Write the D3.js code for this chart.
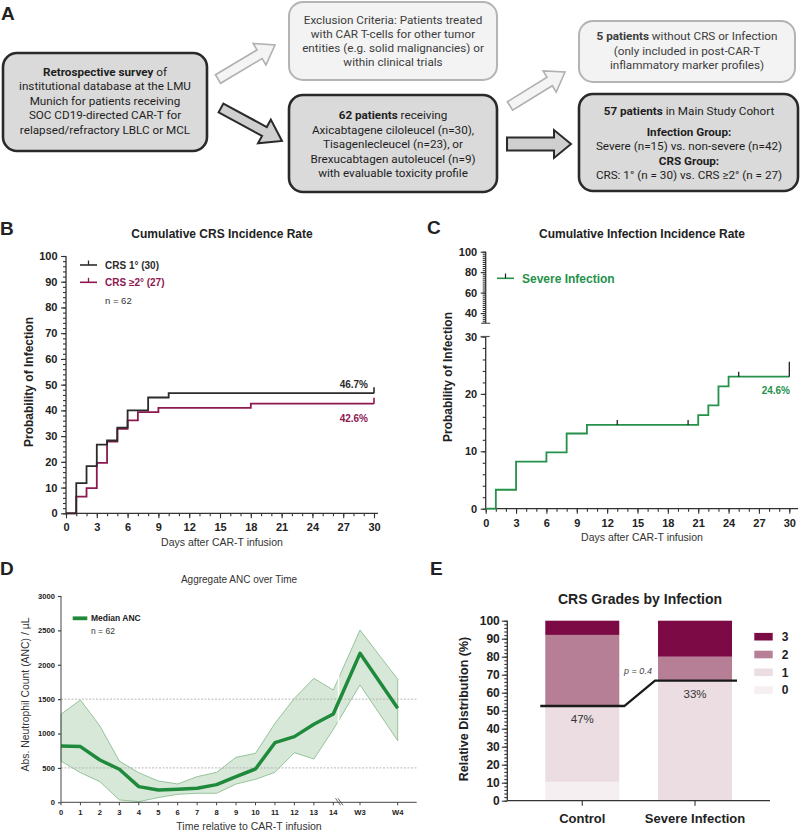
<!DOCTYPE html>
<html><head><meta charset="utf-8">
<script src="https://cdn.jsdelivr.net/npm/d3@7"></script>
<style>
body{margin:0;background:#fff;}
svg{display:block;}
</style></head>
<body>
<svg id="c" width="800" height="831"></svg>
<script>
// ================= DATA =================
// Panel A (flow chart text; **bold**)
const surveyLines = ["**Retrospective survey** of","institutional database at the LMU","Munich for patients receiving","SOC CD19-directed CAR-T for","relapsed/refractory LBLC or MCL"];
const exclusionLines = ["Exclusion Criteria: Patients treated","with CAR T-cells for other tumor","entities (e.g. solid malignancies) or","within clinical trials"];
const cohortLines = ["**62 patients** receiving","Axicabtagene ciloleucel (n=30),","Tisagenlecleucel (n=23), or","Brexucabtagen autoleucel (n=9)","with evaluable toxicity profile"];
const excludedLines = ["**5 patients** without CRS or Infection","(only included in post-CAR-T","inflammatory marker profiles)"];
const mainLines = ["**57 patients** in Main Study Cohort","**Infection Group:**","Severe (n=15) vs. non-severe (n=42)","**CRS Group:**","CRS: 1° (n = 30) vs. CRS ≥2° (n = 27)"];

// Panel B
const crsSeries = ["CRS 1° (30)", "CRS ≥2° (27)"];
const crs1Days = [0, 1, 2, 3, 4, 5, 6, 8, 10, 30];
const crs1Pct  = [0, 11.7, 18.3, 26.7, 28.3, 33.3, 40.0, 45.0, 46.7, 46.7];
const crs2Days = [0, 1, 2, 3, 4, 5, 6, 7, 9, 18, 30];
const crs2Pct  = [0, 6.5, 9.8, 19.6, 27.9, 32.8, 36.1, 39.3, 41.0, 42.6, 42.6];
const crsFinalLabels = ["46.7%", "42.6%"];
const dayTicks = [0, 3, 6, 9, 12, 15, 18, 21, 24, 27, 30];
const pctTicksB = [0, 10, 20, 30, 40, 50, 60, 70, 80, 90, 100];

// Panel C
const infSeries = "Severe Infection";
const infDays = [0, 1, 3, 6, 8, 10, 21, 22, 23, 24, 30];
const infPct  = [0, 3.3, 8.2, 9.8, 13.1, 14.6, 16.3, 18.0, 21.3, 23.0, 23.0];
const infCensorDays = [13, 20, 25];
const infFinalLabel = "24.6%";
const cTicksLow = [0, 10, 20, 30];
const cTicksHigh = [40, 60, 80, 100];

// Panel D
const ancTickLabels = ["0","1","2","3","4","5","6","7","8","9","10","11","12","13","14","W3","W4"];
const ancDays   = [0,1,2,3,4,5,6,7,8,9,10,11,12,13,14,21,28];
const ancMedian = [820,810,615,480,228,180,189,204,257,373,485,867,955,1134,1284,2166,1367];
const ancUpper  = [1280,1488,1110,600,430,310,267,373,436,654,712,1148,1512,1803,1633,2505,1790];
const ancLower  = [600,431,300,34,10,68,116,131,131,266,334,436,722,630,1060,1706,896];
const ancRefLines = [500, 1500];
const ancYTicks = [0, 500, 1000, 1500, 2000, 2500, 3000];

// Panel E
const eGroups = ["Control", "Severe Infection"];
const eGrades = ["0", "1", "2", "3"];
const eControl = [10.5, 42.1, 39.5, 7.9];
const eSevere  = [0, 66.7, 13.3, 20.0];
const eHighLabels = ["47%", "33%"];
const ePValue = "p = 0.4";
const pctTicksE = [0,10,20,30,40,50,60,70,80,90,100];

// ================= DRAW =================
const F = '"Liberation Sans", Arial, Helvetica, sans-serif';
const FA = 'Roboto, "Liberation Sans", Arial, sans-serif';
const svg = d3.select("#c");
svg.append("rect").attr("width",800).attr("height",831).attr("fill","#fff");

function addText(g, x, y, s, o = {}) {
  const t = g.append("text").attr("x", x).attr("y", y).text(s)
    .attr("font-family", o.ff || F).attr("font-size", o.fs || 11)
    .attr("font-weight", o.fw || "normal").attr("fill", o.fill || "#222")
    .attr("text-anchor", o.anchor || "start");
  if (o.italic) t.attr("font-style", "italic");
  if (o.rotate) t.attr("transform", `rotate(-90,${x},${y})`);
  return t;
}
function styleAxis(g, fs, fw, col) {
  g.select(".domain").remove();
  g.selectAll(".tick line").attr("stroke", col || "#333").attr("stroke-width", 1.1);
  g.selectAll(".tick text").attr("font-family", F).attr("font-size", fs).attr("font-weight", fw).attr("fill", "#222");
}

// ---------- Panel A ----------
const gA = svg.append("g");
addText(gA, 1, 19.5, "A", {fs: 19, fw: "bold"});

function blockArrow(g, x0, y0, x1, y1, sw, hw, hl, fill, stroke, lw) {
  const L = Math.hypot(x1 - x0, y1 - y0), a = Math.atan2(y1 - y0, x1 - x0) * 180 / Math.PI;
  const pts = [[0,-sw/2],[L-hl,-sw/2],[L-hl,-hw/2],[L,0],[L-hl,hw/2],[L-hl,sw/2],[0,sw/2]];
  g.append("polygon").attr("points", pts.map(p => p.join(",")).join(" "))
    .attr("transform", `translate(${x0},${y0}) rotate(${a})`)
    .attr("fill", fill).attr("stroke", stroke).attr("stroke-width", lw).attr("stroke-linejoin", "miter");
}
function flowBox(g, x, y, w, h, dark, lines, cx, y0, gaps) {
  g.append("rect").attr("x", x).attr("y", y).attr("width", w).attr("height", h).attr("rx", 14)
    .attr("fill", dark ? "#dadada" : "#f3f3f3").attr("stroke", dark ? "#2a2a2a" : "#b4b4b4")
    .attr("stroke-width", dark ? 2.6 : 2);
  let yy = y0;
  lines.forEach((ln, i) => {
    if (i > 0) yy += gaps[i - 1];
    const t = g.append("text").attr("x", cx).attr("y", yy).attr("text-anchor", "middle")
      .attr("font-family", FA).attr("font-size", 11.7).attr("fill", dark ? "#1e1e1e" : "#3c3c3c");
    ln.split("**").forEach((part, k) => {
      if (part.length) t.append("tspan").attr("font-weight", k % 2 ? "bold" : "normal").text(part);
    });
  });
}
blockArrow(gA, 218, 79, 275, 45, 10, 25, 18, "#f4f4f4", "#b0b0b0", 1.6);
blockArrow(gA, 221, 108, 282, 141, 10, 27, 20, "#cfcfcf", "#2a2a2a", 2);
blockArrow(gA, 510, 106, 565, 72, 10, 25, 18, "#f4f4f4", "#b0b0b0", 1.6);
blockArrow(gA, 507, 144, 571, 144, 13, 28, 17, "#cfcfcf", "#2a2a2a", 2);
flowBox(gA, 3, 53, 204, 98, true, surveyLines, 105, 76, [14.4,14.4,14.4,14.4]);
flowBox(gA, 289, 2, 208, 78, false, exclusionLines, 393, 23.6, [14.1,14.1,14.1]);
flowBox(gA, 289, 95, 208, 97, true, cohortLines, 393, 119.3, [14.4,14.4,14.4,14.4]);
flowBox(gA, 579, 21, 216, 61, false, excludedLines, 687, 40.3, [14.2,14.2]);
flowBox(gA, 579, 94, 219, 97, true, mainLines, 689, 114.5, [21.5,14,14.5,14]);

// ---------- Panel B ----------
const gB = svg.append("g");
addText(gB, 0, 235, "B", {fs: 19, fw: "bold"});
addText(gB, 222, 237.5, "Cumulative CRS Incidence Rate", {fs: 12, fw: "bold", anchor: "middle"});
const xB = d3.scaleLinear().domain([0, 30]).range([66, 374]);
const yB = d3.scaleLinear().domain([0, 100]).range([513.3, 256]);
let ax = gB.append("g").attr("transform", `translate(66,0)`).call(d3.axisLeft(yB).tickValues(d3.range(0, 101, 2)).tickSize(3).tickFormat("").tickSizeOuter(0));
styleAxis(ax, 11, "bold");
ax = gB.append("g").attr("transform", `translate(66,0)`).call(d3.axisLeft(yB).tickValues(pctTicksB).tickSize(5).tickPadding(3.5).tickSizeOuter(0));
styleAxis(ax, 11, "bold");
ax = gB.append("g").attr("transform", `translate(0,${yB(0)})`).call(d3.axisBottom(xB).tickValues(d3.range(0, 31, 1)).tickSize(3).tickFormat("").tickSizeOuter(0));
styleAxis(ax, 11, "bold");
ax = gB.append("g").attr("transform", `translate(0,${yB(0)})`).call(d3.axisBottom(xB).tickValues(dayTicks).tickSize(5).tickPadding(5).tickSizeOuter(0));
styleAxis(ax, 11, "bold");
gB.append("line").attr("x1", xB(0)).attr("x2", xB(0)).attr("y1", yB(0)).attr("y2", yB(100)).attr("stroke", "#333").attr("stroke-width", 1.3);
gB.append("line").attr("x1", xB(0)).attr("x2", xB(30) + 4).attr("y1", yB(0)).attr("y2", yB(0)).attr("stroke", "#333").attr("stroke-width", 1.3);
addText(gB, 33, 382, "Probability of Infection", {fs: 12, fw: "bold", anchor: "middle", rotate: true});
addText(gB, 222, 546, "Days after CAR-T infusion", {fs: 10.5, anchor: "middle", fill: "#333"});
const stepLine = (xs, ys) => d3.line().x(d => xs(d[0])).y(d => ys(d[1])).curve(d3.curveStepAfter);
const colB = ["#2b2b2b", "#8d1850"];
const seriesB = [d3.zip(crs1Days, crs1Pct), d3.zip(crs2Days, crs2Pct)];
[1, 0].forEach(i => {
  gB.append("path").attr("d", stepLine(xB, yB)(seriesB[i])).attr("fill", "none").attr("stroke", colB[i]).attr("stroke-width", 1.8);
  const last = seriesB[i][seriesB[i].length - 1];
  gB.append("line").attr("x1", xB(last[0])).attr("x2", xB(last[0])).attr("y1", yB(last[1])).attr("y2", yB(last[1]) - 6).attr("stroke", colB[i]).attr("stroke-width", 1.6);
});
addText(gB, 368, 388, crsFinalLabels[0], {fs: 10, fw: "bold", anchor: "end", fill: colB[0]});
addText(gB, 368, 422, crsFinalLabels[1], {fs: 10, fw: "bold", anchor: "end", fill: colB[1]});
crsSeries.forEach((s, i) => {
  const yy = 265 + i * 17.3;
  gB.append("line").attr("x1", 80).attr("x2", 97).attr("y1", yy).attr("y2", yy).attr("stroke", colB[i]).attr("stroke-width", 1.6);
  gB.append("line").attr("x1", 88.5).attr("x2", 88.5).attr("y1", yy).attr("y2", yy - 4.5).attr("stroke", colB[i]).attr("stroke-width", 1.3);
  addText(gB, 105, yy + 3.6, s, {fs: 10, fw: "bold", fill: colB[i]});
});
addText(gB, 105, 303.5, "n = 62", {fs: 9.5, fill: "#333"});

// ---------- Panel C ----------
const gC = svg.append("g");
addText(gC, 427, 233.5, "C", {fs: 19, fw: "bold"});
addText(gC, 642, 237.5, "Cumulative Infection Incidence Rate", {fs: 12, fw: "bold", anchor: "middle"});
const xC = d3.scaleLinear().domain([0, 30]).range([485.7, 789.3]);
const yCLow = d3.scaleLinear().domain([0, 30]).range([508.7, 336.5]);
const yCHigh = d3.scaleLinear().domain([30, 100]).range([323.3, 251.7]);
const axC0 = xC(0);
[[yCLow, cTicksLow, d3.range(0, 31, 2)], [yCHigh, cTicksHigh, d3.range(32, 101, 2)]].forEach(([sc, maj, mn]) => {
  let a = gC.append("g").attr("transform", `translate(${axC0},0)`).call(d3.axisLeft(sc).tickValues(mn).tickSize(3).tickFormat("").tickSizeOuter(0));
  styleAxis(a, 11, "bold");
  a = gC.append("g").attr("transform", `translate(${axC0},0)`).call(d3.axisLeft(sc).tickValues(maj).tickSize(5).tickPadding(3.5).tickSizeOuter(0));
  styleAxis(a, 11, "bold");
  const r = sc.range();
  gC.append("line").attr("x1", axC0).attr("x2", axC0).attr("y1", r[0]).attr("y2", r[1]).attr("stroke", "#333").attr("stroke-width", 1.3);
});
gC.append("line").attr("x1", axC0 - 4.5).attr("x2", axC0 + 4.5).attr("y1", yCHigh(30)).attr("y2", yCHigh(30)).attr("stroke", "#555").attr("stroke-width", 1.2);
gC.append("line").attr("x1", axC0 - 5).attr("x2", axC0 + 4).attr("y1", yCLow(30)).attr("y2", yCLow(30)).attr("stroke", "#555").attr("stroke-width", 1.2);
ax = gC.append("g").attr("transform", `translate(0,${yCLow(0)})`).call(d3.axisBottom(xC).tickValues(d3.range(0, 31, 1)).tickSize(3).tickFormat("").tickSizeOuter(0));
styleAxis(ax, 11, "bold");
ax = gC.append("g").attr("transform", `translate(0,${yCLow(0)})`).call(d3.axisBottom(xC).tickValues(dayTicks).tickSize(5).tickPadding(5.5).tickSizeOuter(0));
styleAxis(ax, 11, "bold");
gC.append("line").attr("x1", axC0).attr("x2", 798).attr("y1", yCLow(0)).attr("y2", yCLow(0)).attr("stroke", "#333").attr("stroke-width", 1.3);
addText(gC, 452, 377, "Probability of Infection", {fs: 12, fw: "bold", anchor: "middle", rotate: true});
addText(gC, 642, 541, "Days after CAR-T infusion", {fs: 10.5, anchor: "middle", fill: "#333"});
const green = "#25914a";
const infSer = d3.zip(infDays, infPct);
gC.append("path").attr("d", stepLine(xC, yCLow)(infSer)).attr("fill", "none").attr("stroke", green).attr("stroke-width", 1.8);
infCensorDays.forEach(d => {
  const v = infPct[d3.bisectRight(infDays, d) - 1];
  gC.append("line").attr("x1", xC(d)).attr("x2", xC(d)).attr("y1", yCLow(v)).attr("y2", yCLow(v) - 5).attr("stroke", "#222").attr("stroke-width", 1.3);
});
const infLast = infSer[infSer.length - 1];
gC.append("line").attr("x1", xC(infLast[0])).attr("x2", xC(infLast[0])).attr("y1", yCLow(infLast[1])).attr("y2", yCLow(infLast[1]) - 15).attr("stroke", "#222").attr("stroke-width", 1.3);
addText(gC, 790, 394, infFinalLabel, {fs: 10, fw: "bold", anchor: "end", fill: green});
gC.append("line").attr("x1", 497).attr("x2", 514).attr("y1", 278.3).attr("y2", 278.3).attr("stroke", green).attr("stroke-width", 1.6);
gC.append("line").attr("x1", 505.5).attr("x2", 505.5).attr("y1", 278.3).attr("y2", 273.5).attr("stroke", "#222").attr("stroke-width", 1.2);
addText(gC, 522, 283, infSeries, {fs: 12, fw: "bold", fill: green});

// ---------- Panel D ----------
const gD = svg.append("g");
addText(gD, 0, 575, "D", {fs: 19, fw: "bold"});
addText(gD, 239, 582.5, "Aggregate ANC over Time", {fs: 10, anchor: "middle", fill: "#333"});
const xD1 = d3.scaleLinear().domain([0, 14]).range([61, 333.3]);
const xD2 = d3.scaleLinear().domain([21, 28]).range([360, 397.7]);
const xD = d => d <= 14 ? xD1(d) : xD2(d);
const yD = d3.scaleLinear().domain([0, 3000]).range([802.3, 596]);
const ancRows = ancDays.map((d, i) => ({d, m: ancMedian[i], u: ancUpper[i], l: ancLower[i]}));
gD.append("path").datum(ancRows)
  .attr("d", d3.area().x(r => xD(r.d)).y0(r => yD(r.l)).y1(r => yD(r.u)))
  .attr("fill", "#d8e8d8").attr("stroke", "#7fb886").attr("stroke-width", 0.8);
gD.append("line").attr("x1", 338.5).attr("x2", 338.5).attr("y1", yD(2600)).attr("y2", yD(900)).attr("stroke", "#fff").attr("stroke-width", 1.5);
ancRefLines.forEach(v => {
  gD.append("line").attr("x1", xD1(0)).attr("x2", 416.7).attr("y1", yD(v)).attr("y2", yD(v))
    .attr("stroke", "#b0b0b0").attr("stroke-width", 0.9).attr("stroke-dasharray", "2,1.5");
});
gD.append("path").datum(ancRows).attr("d", d3.line().x(r => xD(r.d)).y(r => yD(r.m)))
  .attr("fill", "none").attr("stroke", "#1f8a3b").attr("stroke-width", 3.5).attr("stroke-linejoin", "round");
ax = gD.append("g").attr("transform", `translate(${xD1(0)},0)`).call(d3.axisLeft(yD).tickValues(ancYTicks).tickFormat(d3.format("d")).tickSize(3).tickPadding(3).tickSizeOuter(0));
styleAxis(ax, 7.6, "bold");
gD.append("line").attr("x1", xD1(0)).attr("x2", xD1(0)).attr("y1", yD(0)).attr("y2", yD(3000)).attr("stroke", "#444").attr("stroke-width", 1);
const gX = gD.append("g").attr("transform", `translate(0,${yD(0)})`);
ancDays.forEach((d, i) => {
  gX.append("line").attr("x1", xD(d)).attr("x2", xD(d)).attr("y1", 0).attr("y2", 3).attr("stroke", "#444").attr("stroke-width", 1);
  addText(gX, xD(d), 12.7, ancTickLabels[i], {fs: 7.6, fw: "bold", anchor: "middle"});
});
gD.append("line").attr("x1", xD1(0)).attr("x2", 416.7).attr("y1", yD(0)).attr("y2", yD(0)).attr("stroke", "#444").attr("stroke-width", 1);
[0, 2.5].forEach(o => gD.append("line").attr("x1", 335.5 + o).attr("x2", 340.5 + o).attr("y1", yD(0) - 4).attr("y2", yD(0) + 3).attr("stroke", "#555").attr("stroke-width", 0.9));
addText(gD, 29, 694.5, "Abs. Neutrophil Count (ANC) / µL", {fs: 10.4, anchor: "middle", fill: "#333", rotate: true});
addText(gD, 249, 829.5, "Time relative to CAR-T infusion", {fs: 10.5, anchor: "middle", fill: "#333"});
gD.append("line").attr("x1", 72.7).attr("x2", 87.3).attr("y1", 618.3).attr("y2", 618.3).attr("stroke", "#1f8a3b").attr("stroke-width", 3.8);
addText(gD, 91, 621.3, "Median ANC", {fs: 8.5, fw: "bold"});
addText(gD, 91, 634, "n = 62", {fs: 8.5, fill: "#333"});

// ---------- Panel E ----------
const gE = svg.append("g");
addText(gE, 430, 575, "E", {fs: 19, fw: "bold"});
addText(gE, 640, 604, "CRS Grades by Infection", {fs: 14, fw: "bold", anchor: "middle"});
const xE = d3.scalePoint().domain(eGroups).range([507.3, 770]).padding(0.665);
const yE = d3.scaleLinear().domain([0, 100]).range([800.7, 620.7]);
const barW = 74;
const eColors = {"0": "#f6eff2", "1": "#ecdde3", "2": "#b77f95", "3": "#7b0a45"};
const eRows = eGroups.map((g, i) => {
  const vals = i === 0 ? eControl : eSevere;
  const o = {group: g};
  eGrades.forEach((k, j) => o[k] = vals[j]);
  return o;
});
const stacked = d3.stack().keys(eGrades)(eRows);
stacked.forEach(layer => {
  gE.selectAll(null).data(layer).enter().append("rect")
    .attr("x", d => xE(d.data.group) - barW / 2).attr("width", barW)
    .attr("y", d => yE(d[1])).attr("height", d => yE(d[0]) - yE(d[1]))
    .attr("fill", eColors[layer.key]);
});
ax = gE.append("g").attr("transform", `translate(507.3,0)`).call(d3.axisLeft(yE).tickValues(d3.range(0, 101, 2)).tickSize(3).tickFormat("").tickSizeOuter(0));
styleAxis(ax, 12, "bold");
ax = gE.append("g").attr("transform", `translate(507.3,0)`).call(d3.axisLeft(yE).tickValues(pctTicksE).tickSize(5.5).tickPadding(2).tickSizeOuter(0));
styleAxis(ax, 12, "bold");
gE.append("line").attr("x1", 507.3).attr("x2", 507.3).attr("y1", yE(0)).attr("y2", yE(100)).attr("stroke", "#333").attr("stroke-width", 1.3);
gE.append("line").attr("x1", 507.3).attr("x2", 770).attr("y1", yE(0)).attr("y2", yE(0)).attr("stroke", "#333").attr("stroke-width", 1.3);
eGroups.forEach(g => {
  gE.append("line").attr("x1", xE(g)).attr("x2", xE(g)).attr("y1", yE(0)).attr("y2", yE(0) + 5).attr("stroke", "#333").attr("stroke-width", 1.1);
  addText(gE, xE(g), 823, g, {fs: 13, fw: "bold", anchor: "middle"});
});
addText(gE, 468, 709, "Relative Distribution (%)", {fs: 12.5, fw: "bold", anchor: "middle", rotate: true});
const lowSum = eRows.map(r => r["0"] + r["1"]);
const lp = [
  [xE(eGroups[0]) - barW / 2 - 5, lowSum[0]], [xE(eGroups[0]) + barW / 2 + 5, lowSum[0]],
  [xE(eGroups[1]) - barW / 2 - 3, lowSum[1]], [xE(eGroups[1]) + barW / 2 + 5, lowSum[1]]
];
gE.append("path").attr("d", d3.line().x(p => p[0]).y(p => yE(p[1]))(lp)).attr("fill", "none").attr("stroke", "#1a1a1a").attr("stroke-width", 2.3);
addText(gE, xE(eGroups[0]), yE(lowSum[0]) + 17, eHighLabels[0], {fs: 11.5, anchor: "middle", fill: "#333"});
addText(gE, xE(eGroups[1]), yE(lowSum[1]) + 17.5, eHighLabels[1], {fs: 11.5, anchor: "middle", fill: "#333"});
addText(gE, 638, 674.3, ePValue, {fs: 9, anchor: "middle", fill: "#444", italic: true});
eGrades.slice().reverse().forEach((k, i) => {
  const yy = 636.7 + i * 17.8;
  gE.append("rect").attr("x", 754.3).attr("y", yy - 3.8).attr("width", 18.4).attr("height", 7.6).attr("fill", eColors[k]);
  addText(gE, 781.7, yy + 4.3, k, {fs: 12, fw: "bold"});
});
</script>
</body></html>
